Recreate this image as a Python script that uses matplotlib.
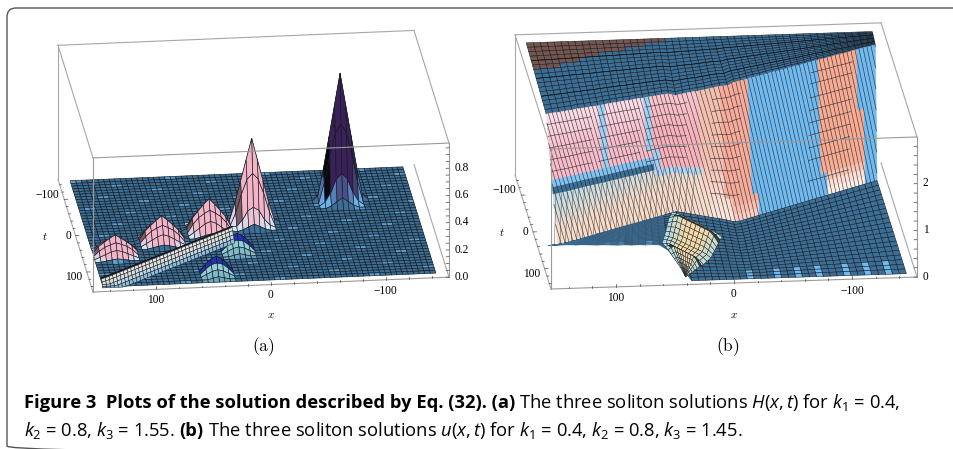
import numpy as np
import matplotlib
matplotlib.use('Agg')
import matplotlib.pyplot as plt
from matplotlib.colors import to_rgb
from matplotlib.patches import FancyBboxPatch
from mpl_toolkits.mplot3d import proj3d

plt.rcParams['mathtext.fontset'] = 'custom'
plt.rcParams['mathtext.rm'] = 'Open Sans'
plt.rcParams['mathtext.it'] = 'Open Sans:italic'
plt.rcParams['mathtext.bf'] = 'Open Sans:bold'

# ---- panel (a): H(x,t), heights
CONE_SHAPE = [
    [0, 0, 0, 0, .02, 0, 0, 0, 0],
    [0, 0, .04, .21, .25, .21, .04, 0, 0],
    [0, .16, .38, .55, .62, .55, .38, .16, 0],
    [.04, .25, .50, .75, 1.0, .75, .50, .25, .04],
    [0, .16, .38, .55, .62, .55, .38, .16, 0],
    [0, .03, .10, .21, .25, .21, .10, .03, 0],
    [0, 0, .02, .05, .08, .05, .02, 0, 0],
]
LOW_SHAPE = [
    [0, 0, .05, .10, .12, .10, .05, 0, 0],
    [0, .08, .25, .38, .45, .38, .25, .08, 0],
    [.03, .30, .50, .62, .72, .62, .50, .30, .03],
    [.08, .40, .62, .82, 1.0, .82, .62, .40, .08],
    [.03, .30, .50, .62, .72, .62, .50, .30, .03],
    [0, .12, .25, .38, .45, .38, .25, .12, 0],
    [0, 0, .05, .10, .14, .10, .05, 0, 0],
]
PEAK_ROWS = [11, 18, 20, 23, 27]
PEAK_COLS = [47, 30, 22, 13, 4]
PEAK_HEIGHTS = [.93, .62, .23, .18, .135]
PEAK_TOPS = ['#3b2158', '#f5b4c6', '#f5b4c6', '#f5b4c6', '#f5b4c6']

RIDGE_X = [20, 27, 34, 41, 48, 55, 62, 69, 76, 83, 90, 97, 104, 111, 118, 125, 132, 139, 146]
RIDGE_T = [12, 19, 26, 33, 40, 47, 54, 61, 68, 75, 82, 89, 96, 103, 110, 117, 124, 131, 137]
RIDGE_DT = [26, 19, 13, 7, 2, 0]
RIDGE_Z = [0, .012, .025, .04, .05, .052]
RIDGE_COLOURS = ['#8fbcd8', '#c2d6e0', '#dcdcd8', '#e9e6df', '#f0ebe4']

HUMP_TABLE = [
    [0, 0, .03, .05, .03, 0, 0],
    [0, .05, .09, .11, .09, .05, 0],
    [0, .04, .07, .08, .07, .04, 0],
    [0, .02, .04, .05, .04, .02, 0],
    [0, 0, .01, .02, .01, 0, 0],
]
HUMP_ROWS = [27, 35]
HUMP_COLS = [26, 21]

# ---- panel (b): u(x,t), one value per mesh column, left to right
TOP_Z = [2.69, 2.68, 2.66, 2.65, 2.63, 2.62, 2.60, 2.59, 2.57, 2.56, 2.55, 2.53, 2.52, 2.50, 2.49, 2.47, 2.46,
         2.44, 2.43, 2.41, 2.40, 2.46, 2.52, 2.57, 2.63, 2.69, 2.75, 2.80, 2.86, 2.85, 2.85, 2.85, 2.84, 2.84,
         2.84, 2.83, 2.83, 2.83, 2.82, 2.82, 2.82, 2.82, 2.81, 2.81, 2.81, 2.80, 2.80, 2.80, 2.80, 2.79, 2.79]
BOT_T = [37, 33, 29, 25, 20.5, 16, 12, 8, 4, -0.5, -4.5, -9, -13, -17, -21.5, -25.5, -30, -34, -38, -42,
         -38.5, -35, -31, -27, -23, -19.5, -15.5, -10, -11.6, -16, -20.4, -24.8, -29.2, -33.6, -38, -42.3,
         -46.7, -51.1, -55.5, -59.9, -64.3, -68.7, -73, -77.4, -81.8, -86.2, -90.6, -95, -99.3, -103.7, -108]
FRONT_T = [37.5, 37.5, 37.5, 38, 39, 39, 40, 41, 41, 42, 43, 43, 44, 44, 45, 45, 46, 62, 105] + [145] * 32
PLATEAU_BACK_Z = 2.86
STRIP_LEFT_X = [33, 38, 42, 46, 50, 47, 44, 41, 39]
STRIP_LEFT_T = [-40, -18, 3, 24, 45, 67, 89, 111, 135]
STRIP_RIGHT_X = [-2, 3, 8, 13, 21, 25, 30, 35, 39]
STRIP_RIGHT_T = [31, 51, 69, 87, 105, 112, 120, 128, 135]
STRIP_Z = [.04, .20, .12, .06, .09, .19, .11, .05, .01]
STRIP_TAPER = [.3, .7, 1, 1, 1, 1, 1, 1, 1, 1, .7, .2]
FLOOR_TICKS = [8, 10, 14, 27, 31, 34, 37, 41, 44, 47]
CONTOUR_BANDS = [(0, 7, [.08, .17, .26, .35, .44]), (8, 14.5, [.08, .17, .26, .35, .44]),
                 (15.5, 21.5, [.08, .17, .26, .35, .44, .53]), (25, 29, [.09, .18, .27, .36, .45, .54, .63, .72, .81]),
                 (40, 46.5, [.08, .16, .26, .35, .44, .53, .62, .71, .86])]

X_TICKS = [100, 0, -100]
T_TICKS = [-100, 0, 100]
T_LABEL_SHIFT = [5, 0, -5]
Z_TICKS_A = [0.0, 0.2, 0.4, 0.6, 0.8]
Z_TICKS_B = [0, 1, 2]

BLUE = '#3c6f96'
LIGHT = '#6fbaf0'
EDGE = '#141c26'


def mix(c1, c2, f):
    f = min(1.0, max(0.0, f))
    return (1 - f) * np.array(to_rgb(c1)) + f * np.array(to_rgb(c2))


def draw_box(ax, zmax):
    L = 155
    back = [((L, -L, 0), (L, -L, zmax)), ((L, -L, zmax), (-L, -L, zmax)),
            ((L, -L, zmax), (L, L, zmax)), ((-L, -L, zmax), (-L, L, zmax)),
            ((L, -L, 0), (L, L, 0)), ((-L, -L, 0), (-L, L, 0))]
    for p, q in back:
        ax.plot(*zip(p, q), color='#a6a6a6', lw=0.8, zorder=1)
    front = [((L, L, 0), (L, L, zmax)), ((L, L, zmax), (-L, L, zmax)), ((-L, L, 0), (-L, L, zmax)),
             ((L, L, 0), (-L, L, 0))]
    for p, q in front:
        ax.plot(*zip(p, q), color='#9a9a9a', lw=0.8, zorder=6)


def draw_ticks(ax, zmax, z_minor):
    L = 155
    dz = zmax / 135.0
    for v in range(-140, 141, 20):
        size = 3.0 if v % 100 == 0 else 1.6
        ax.plot([v, v], [L, L], [0, size * dz], color='#444444', lw=0.5, zorder=6)
        ax.plot([L, L - size * 1.0], [v, v], [0, 0], color='#444444', lw=0.5, zorder=6)
    for v in z_minor:
        ax.plot([-L, -L + 2.5], [L, L], [v, v], color='#444444', lw=0.5, zorder=6)


def label_at(ax, ax0, xyz, s, **kw):
    # 3D position through the axes' own projection, written on the flat overlay
    H = ax.figure.canvas.get_width_height()[1]
    p = proj3d.proj_transform(*xyz, ax.get_proj())[:2]
    d = ax.transData.transform(p)
    ax0.text(d[0], H - d[1], s, va='center', **kw)


def draw_tick_labels(ax, ax0, zmax, z_ticks, z_fmt):
    L = 155
    dz = zmax / 135.0
    ax.apply_aspect()
    serif = dict(fontsize=8.3, family='Liberation Serif')
    for v in X_TICKS:
        label_at(ax, ax0, (v, L, -11 * dz), str(v).replace('-', '\u2212'), ha='center', **serif)
    label_at(ax, ax0, (0, L, -31 * dz), r'$x$', ha='center', fontsize=8, math_fontfamily='cm')
    for v, shift in zip(T_TICKS, T_LABEL_SHIFT):
        label_at(ax, ax0, (L + 4, v, shift * dz), str(v).replace('-', '\u2212'), ha='right', **serif)
    label_at(ax, ax0, (L + 24, 0, 0), r'$t$', ha='right', fontsize=8, math_fontfamily='cm')
    for v in z_ticks:
        label_at(ax, ax0, (-L - 5, L, v), z_fmt % v, ha='left', **serif)


def fit_axes(ax, fig, corner_a, pix_a, corner_b, pix_b):
    # scale and move the square axes so two box corners land on the wanted pixels
    W, H = fig.canvas.get_width_height()
    size = 520.0
    x0, y0 = 0.0, 0.0
    for _ in range(4):
        ax.set_position([x0 / W, y0 / H, size / W, size / H])
        ax.apply_aspect()
        M = ax.get_proj()
        pa = proj3d.proj_transform(*corner_a, M)[:2]
        pb = proj3d.proj_transform(*corner_b, M)[:2]
        da = ax.transData.transform(pa)
        db = ax.transData.transform(pb)
        size *= (pix_b[0] - pix_a[0]) / (db[0] - da[0])
        ax.set_position([x0 / W, y0 / H, size / W, size / H])
        ax.apply_aspect()
        da = ax.transData.transform(pa)
        x0 += pix_a[0] - da[0]
        y0 += (H - pix_a[1]) - da[1]
    ax.set_position([x0 / W, y0 / H, size / W, size / H])


def new_axes(fig, elev, azim, aspect, zmax):
    ax = fig.add_axes([0, 0, 0.5, 0.5], projection='3d', computed_zorder=False)
    ax.set_proj_type('ortho')
    ax.view_init(elev=elev, azim=azim)
    ax.set_box_aspect(aspect)
    ax.set_xlim(-155, 155)
    ax.set_ylim(-155, 155)
    ax.set_zlim(0, zmax)
    ax.set_xticks([])
    ax.set_yticks([])
    ax.set_zticks([])
    ax.set_axis_off()
    ax.patch.set_alpha(0)
    return ax


def build_panel_a():
    xs = 145 - 4.83 * np.arange(61)
    ts = -150 + 7.5 * np.arange(40)
    X, Y = np.meshgrid(xs, ts)
    Z = np.zeros_like(X)
    fc = np.zeros(X.shape + (3,))
    fc[:, :] = to_rgb(BLUE)
    # light dashes along the floor rows
    for i in range(0, X.shape[0], 2):
        for j in range(X.shape[1]):
            if (j + 5 * i) % 17 < 2:
                fc[i, j] = mix(BLUE, LIGHT, .6)
    for n, (row, col, h) in enumerate(zip(PEAK_ROWS, PEAK_COLS, PEAK_HEIGHTS)):
        shape = np.array(CONE_SHAPE if n < 2 else LOW_SHAPE)
        Z[row - 3:row + 4, col - 4:col + 5] = np.maximum(Z[row - 3:row + 4, col - 4:col + 5], h * shape)
    for row, col in zip(HUMP_ROWS, HUMP_COLS):
        for r, line in enumerate(HUMP_TABLE):
            for k, v in enumerate(line):
                Z[row - 1 + r, col - 3 + k] = max(Z[row - 1 + r, col - 3 + k], v)
    # colours
    for row, col, h, top in zip(PEAK_ROWS, PEAK_COLS, PEAK_HEIGHTS, PEAK_TOPS):
        low = '#6db8f2' if h > .9 else '#d6e6f6'
        for i in range(row - 3, row + 3):
            for j in range(col - 4, col + 4):
                zm = Z[i:i + 2, j:j + 2].mean()
                if zm < .004:
                    continue
                frac = zm / h
                c = mix(low, top, (frac - .03) / .17)
                if frac > .12 and (j == col - 4 or (j == col - 3 and h > .5)):
                    c = mix(c, '#000000', .85 if h > .9 else .5)
                fc[i, j] = c
    for row, col in zip(HUMP_ROWS, HUMP_COLS):
        for j in range(col - 3, col + 3):
            fc[row - 1, j] = to_rgb('#2232b0')
            fc[row, j] = to_rgb('#2232b0')
            for r in range(1, 4):
                fc[row + r, j] = mix('#a6e2e2', '#6aa6be', r / 3.0)
    return X, Y, Z, fc


def build_ridge():
    # midpoints between the read points give the fine mesh of the band
    cx = np.array(RIDGE_X, dtype=float)
    ct = np.array(RIDGE_T, dtype=float)
    lx = np.empty(2 * len(cx) - 1)
    lt = np.empty(2 * len(ct) - 1)
    lx[::2], lt[::2] = cx, ct
    lx[1::2], lt[1::2] = (cx[:-1] + cx[1:]) / 2, (ct[:-1] + ct[1:]) / 2
    X = np.array([[x for d in RIDGE_DT] for x in lx])
    Y = np.minimum(np.array([[t + d for d in RIDGE_DT] for t in lt]), 145)
    Z = np.array([RIDGE_Z for t in lt])
    fc = np.zeros(X.shape + (3,))
    for k, c in enumerate(RIDGE_COLOURS):
        fc[:, k] = to_rgb(c)
    return X, Y, Z, fc


def wall_colour(j, f):
    if j < 22:
        gap = (7 <= j < 8) or (14.5 <= j < 15.5)
        pink_end = .48 if j < 15 else .62
        if f < pink_end:
            if gap:
                return mix(LIGHT, '#cfe6f8', .5)
            if j < 15:
                return mix('#fbdfe9', '#f7bccb', f / .3)
            return mix('#f9c6cf', '#f6b2bc', f / .3)
        if f < pink_end + .06:
            return mix('#cfe4f6', LIGHT, (f - pink_end) / .06)
        if j < 15 and f < pink_end + .15:
            return to_rgb(BLUE)
        return mix('#bcdde9', '#f7dccb', (f - .6) / .3 + j / 40.0)
    if j < 25:
        return mix('#f3c0b0', '#fbe6dd', (f - .55) / .4)
    if j < 29:
        return mix('#f7ab9a', '#fbd9d0', (f - .85) / .15)
    if 40 <= j < 46.5:
        return mix('#f7ab93', '#fdeee8', (f - .8) / .15)
    return to_rgb(LIGHT)


N_PLATEAU, N_WALL, N_FRONT = 16, 18, 20


def build_panel_b():
    ncols = 51
    nrows = N_PLATEAU + N_WALL + N_FRONT + 1
    X = np.zeros((nrows, ncols))
    Y = np.zeros((nrows, ncols))
    Z = np.zeros((nrows, ncols))
    fc = np.zeros((nrows, ncols, 3))
    fc[:, :] = to_rgb(BLUE)
    ec = np.zeros((nrows, ncols, 3))
    ec[:, :] = to_rgb(EDGE)
    for j in range(ncols):
        x = 146 - 5.86 * j
        shear = 8 - .16 * j
        top_t = BOT_T[j] - 15
        for r in range(nrows):
            if r <= N_PLATEAU:
                g = r / N_PLATEAU
                X[r, j] = x
                Y[r, j] = -150 + (top_t + 150) * g
                Z[r, j] = PLATEAU_BACK_Z + (TOP_Z[j] - PLATEAU_BACK_Z) * g
                if g < .37 * (1 - j / 20.0):
                    fc[r, j] = to_rgb('#76554c')
            elif r <= N_PLATEAU + N_WALL:
                f = (r - N_PLATEAU) / N_WALL
                X[r, j] = x - shear * f
                Y[r, j] = top_t + 15 * f
                Z[r, j] = TOP_Z[j] * (1 - f)
            else:
                k = r - N_PLATEAU - N_WALL
                g = k / N_FRONT
                X[r, j] = x - shear * (1 - g)
                Y[r, j] = BOT_T[j] + (FRONT_T[j] - BOT_T[j]) * g
                if j in FLOOR_TICKS and k >= N_FRONT - 3:
                    fc[r, j] = to_rgb(LIGHT)
        span = FRONT_T[j] - BOT_T[j]
        if span < 90:
            ec[N_PLATEAU + N_WALL:, j] = mix(BLUE, EDGE, span / 180.0)
    # wall cells carry no own outline, their mesh lines are drawn on top of them
    for r in range(N_PLATEAU, N_PLATEAU + N_WALL):
        f = (r + .5 - N_PLATEAU) / N_WALL
        for j in range(ncols):
            fc[r, j] = wall_colour(j - 1.2 * f, f)
            ec[r, j] = fc[r, j]
    return X, Y, Z, fc, ec


def build_strip():
    # low double hump in front of the wall, between its read left and right edges
    nr = 2 * len(STRIP_Z) - 1
    nc = len(STRIP_TAPER)
    X = np.zeros((nr, nc))
    Y = np.zeros((nr, nc))
    Z = np.zeros((nr, nc))
    fc = np.zeros((nr, nc, 3))
    for i in range(nr):
        a = i // 2
        b = min(a + 1, len(STRIP_Z) - 1)
        w = 0.5 if i % 2 else 0.0
        lx = (1 - w) * STRIP_LEFT_X[a] + w * STRIP_LEFT_X[b]
        lt = (1 - w) * STRIP_LEFT_T[a] + w * STRIP_LEFT_T[b]
        rx = (1 - w) * STRIP_RIGHT_X[a] + w * STRIP_RIGHT_X[b]
        rt = (1 - w) * STRIP_RIGHT_T[a] + w * STRIP_RIGHT_T[b]
        zz = (1 - w) * STRIP_Z[a] + w * STRIP_Z[b]
        for k in range(nc):
            p = k / (nc - 1)
            X[i, k] = lx + (rx - lx) * p
            Y[i, k] = lt + (rt - lt) * p
            Z[i, k] = zz * STRIP_TAPER[k]
            c = mix('#a9dde8', '#f4d8a6', 2.6 * min(p, 1 - p) + zz)
            if i in (1, 9) and 1 <= k < nc - 1:
                c = mix(c, '#14181c', .8)
            fc[i, k] = c
    return X, Y, Z, fc


def wall_point(X, Y, Z, col, f):
    j = min(int(col), X.shape[1] - 2)
    c = col - j
    fr = f * N_WALL + N_PLATEAU
    r = min(int(fr), N_PLATEAU + N_WALL - 1)
    d = fr - r
    out = []
    for A in (X, Y, Z):
        out.append((1 - c) * ((1 - d) * A[r, j] + d * A[r + 1, j]) + c * ((1 - d) * A[r, j + 1] + d * A[r + 1, j + 1]))
    return out


def draw_wall_mesh(ax, X, Y, Z):
    last = X.shape[1] - 1
    slant = 4.0
    for c0 in np.arange(-slant, last, 0.62):
        f0 = max(0.0, -c0 / slant)
        f1 = min(1.0, (last - c0) / slant)
        pts = [wall_point(X, Y, Z, c0 + slant * f, f) for f in np.linspace(f0, f1, 8)]
        ax.plot(*zip(*pts), color='#161616', lw=0.45, alpha=0.8, zorder=3.2)
    # crossing lines of the lower left slope
    for c0 in np.arange(2.0, 24, 0.9):
        if c0 - 2.5 * .4 < 0:
            continue
        pts = [wall_point(X, Y, Z, c0 - 2.5 * f, f) for f in np.linspace(.62, 1.0, 5)]
        ax.plot(*zip(*pts), color='#161616', lw=0.35, alpha=0.7, zorder=3.2)
    for start, end, levels in CONTOUR_BANDS:
        for f in levels:
            cols = np.linspace(start, end, 6)
            pts = [wall_point(X, Y, Z, c - 1.2 * f, f) if c - 1.2 * f >= 0 else wall_point(X, Y, Z, 0, f) for c in cols]
            ax.plot(*zip(*pts), color='#3a3034', lw=0.5, alpha=0.85, zorder=3.2)
    # long dark lines across the plateau
    for r in (4, 8, 12):
        ax.plot(X[r], Y[r], Z[r], color='#0a0f14', lw=0.5, alpha=0.9, zorder=3.2)


def draw_surface(ax, X, Y, Z, fc, ec=None, lw=0.45, zorder=3):
    surf = ax.plot_surface(X, Y, Z, facecolors=fc, shade=False, rstride=1, cstride=1, zorder=zorder)
    if ec is None:
        surf.set_edgecolor(EDGE)
    else:
        surf.set_edgecolor(ec[:-1, :-1].reshape(-1, 3))
    surf.set_linewidth(lw)


def caption_line(ax0, renderer, x, y, runs, size):
    for s, weight in runs:
        t = ax0.text(x, y, s, fontsize=size, fontweight=weight, family='Open Sans', ha='left', va='baseline')
        x = ax0.transData.inverted().transform(t.get_window_extent(renderer).corners()[2])[0] + size * 0.32


def main():
    fig = plt.figure(figsize=(9.54, 4.49), dpi=100)

    ax_a = new_axes(fig, 21.5, 83.5, (358, 309, 144), 0.985)
    draw_box(ax_a, 0.985)
    draw_surface(ax_a, *build_panel_a())
    rx, ry, rz, rc = build_ridge()
    draw_surface(ax_a, rx, ry, rz, rc, lw=0.35, zorder=4)
    ax_a.plot(rx[:, -1], ry[:, -1], rz[:, -1], color='#0c0c10', lw=0.9, zorder=4.5)
    draw_ticks(ax_a, 0.985, np.arange(0, .96, .05))
    fit_axes(ax_a, fig, (155, 155, 0), (93, 292), (-155, 155, 0), (449, 277))

    ax_b = new_axes(fig, 18.8, 84.2, (368, 356, 148), 3.0)
    draw_box(ax_b, 3.0)
    X, Y, Z, fc, ec = build_panel_b()
    draw_surface(ax_b, X, Y, Z, fc, ec, lw=0.38)
    draw_wall_mesh(ax_b, X, Y, Z)
    draw_surface(ax_b, *build_strip(), lw=0.3, zorder=4)
    draw_ticks(ax_b, 3.0, np.arange(0, 3.0, .2))
    fit_axes(ax_b, fig, (155, 155, 0), (551, 289), (-155, 155, 0), (917, 277))

    ax0 = fig.add_axes([0, 0, 1, 1], facecolor='none')
    ax0.set_xlim(0, 954)
    ax0.set_ylim(449, 0)
    ax0.set_xticks([])
    ax0.set_yticks([])
    ax0.axis('off')
    draw_tick_labels(ax_a, ax0, 0.985, Z_TICKS_A, '%.1f')
    draw_tick_labels(ax_b, ax0, 3.0, Z_TICKS_B, '%d')
    ax0.add_patch(FancyBboxPatch((7, 8), 1000, 447, boxstyle='round,pad=0,rounding_size=9',
                                 fc='none', ec='#555555', lw=1.0, clip_on=True))
    ax0.text(263, 347, r'$\mathrm{(a)}$', fontsize=12.5, ha='center', va='center', math_fontfamily='cm')
    ax0.text(728, 347, r'$\mathrm{(b)}$', fontsize=12.5, ha='center', va='center', math_fontfamily='cm')

    renderer = fig.canvas.get_renderer()
    size = 13.2
    caption_line(ax0, renderer, 24, 408, [
        ('Figure 3  Plots of the solution described by Eq. (32). (a)', 'bold'),
        (r'The three soliton solutions $H(x,t)$ for $k_1$ = 0.4,', 'normal')], size)
    caption_line(ax0, renderer, 24, 436, [
        (r'$k_2$ = 0.8, $k_3$ = 1.55.', 'normal'), ('(b)', 'bold'),
        (r'The three soliton solutions $u(x,t)$ for $k_1$ = 0.4, $k_2$ = 0.8, $k_3$ = 1.45.', 'normal')], size)

    fig.savefig('out.png', dpi=100)


if __name__ == "__main__":
    main()
